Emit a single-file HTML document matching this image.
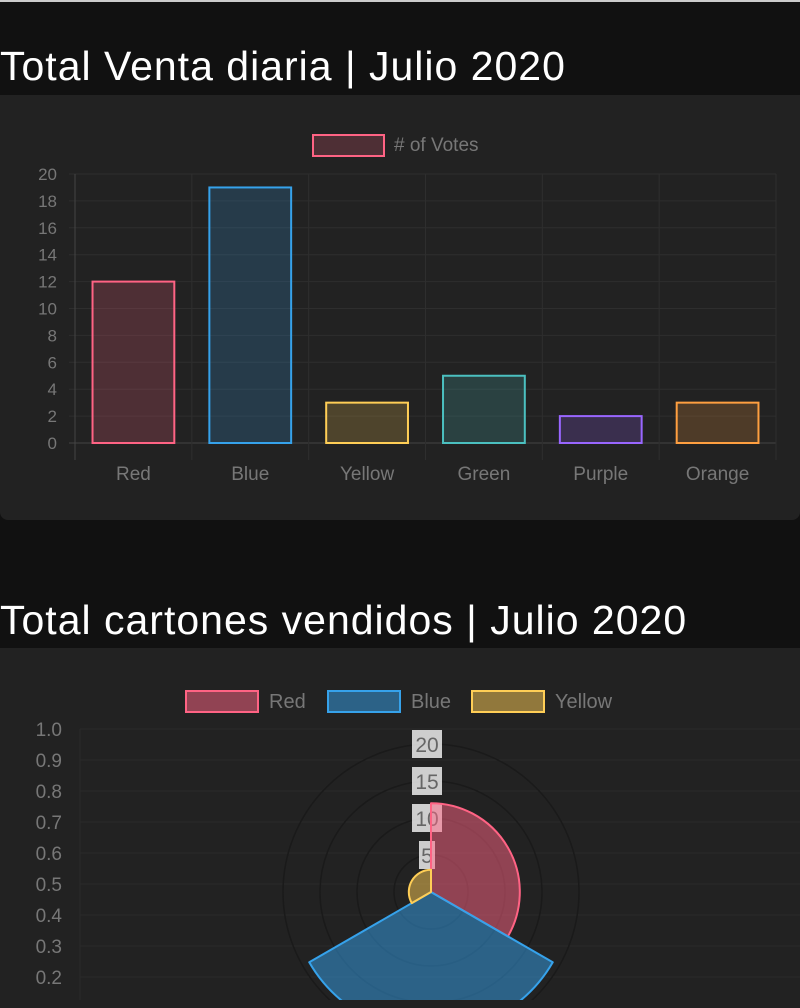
<!DOCTYPE html>
<html><head><meta charset="utf-8"><style>
html,body{margin:0;padding:0;width:800px;height:1000px;overflow:hidden;background:#111;font-family:"Liberation Sans",sans-serif}
#topline{position:absolute;left:0;top:0;width:800px;height:2px;background:#ccc}
.title{position:absolute;left:0;color:#fff;font-size:41px;letter-spacing:1px;white-space:nowrap}
.card{position:absolute;left:0;width:800px;background:#222;border-radius:0 0 8px 8px}
svg{position:absolute;left:0;top:0}
</style></head><body>
<div id="topline"></div>
<div class="title" style="top:43px">Total Venta diaria | Julio 2020</div>
<div class="card" style="top:95px;height:425px"></div>
<div class="title" style="top:597px">Total cartones vendidos | Julio 2020</div>
<div class="card" style="top:648px;height:360px;border-radius:0"></div>
<svg id="bar" width="800" height="1000"></svg>
<script>
const categories=["Red","Blue","Yellow","Green","Purple","Orange"];
const votes=[12,19,3,5,2,3];
const yTicks=[0,2,4,6,8,10,12,14,16,18,20];
const polarLabels=["Red","Blue","Yellow"];
const polarValues=[12,19,3];
const polarTicks=[5,10,15,20];
const leftTicks=["1.0","0.9","0.8","0.7","0.6","0.5","0.4","0.3","0.2","0.1"];

const stroke=["rgb(255,99,132)","rgb(54,162,235)","rgb(255,206,86)","rgb(75,192,192)","rgb(153,102,255)","rgb(255,159,64)"];
const NS="http://www.w3.org/2000/svg";
const svg=document.getElementById('bar');
function mk(t,a,txt){const e=document.createElementNS(NS,t);for(const k in a)e.setAttribute(k,a[k]);if(txt!=null)e.textContent=txt;svg.appendChild(e);return e;}
const x0=75,x1=776,yBase=443,yTop=174,yMax=20;
const Y=v=>yBase-(v/yMax)*(yBase-yTop);
const bw=(x1-x0)/categories.length;
const X=i=>x0+bw*i;
yTicks.forEach(t=>{
  const l=mk('line',{x1:x0-6,x2:x1,y1:Y(t),y2:Y(t),stroke:t===0?'#444':'#2e2e2e','stroke-width':1});
  
  
  const tx=mk('text',{x:57,y:Y(t)+6,'text-anchor':'end',fill:'#777','font-size':17},t);
  
  
});
for(let i=0;i<=categories.length;i++){
  const l=mk('line',{x1:X(i),x2:X(i),y1:yTop,y2:yBase+17,stroke:i===0?'#444':'#2e2e2e','stroke-width':1});
  
  
}
categories.forEach((c,i)=>{
  const bx=X(i)+bw*0.15, w=bw*0.7;
  const r=mk('rect',{x:bx,y:Y(votes[i]),width:w,height:yBase-Y(votes[i]),fill:stroke[i],'fill-opacity':0.2,stroke:stroke[i],'stroke-width':2});
  
  
  const tx=mk('text',{x:X(i)+bw/2,y:480,'text-anchor':'middle',fill:'#777','font-size':19},c);
  
  
});
const lg=mk('rect',{x:313,y:135,width:71,height:21,fill:stroke[0],'fill-opacity':0.2,stroke:stroke[0],'stroke-width':2});


const lt=mk('text',{x:394,y:151,fill:'#777','font-size':19},'# of Votes');



leftTicks.forEach((t,i)=>{
  const y=729+i*31;
  const l=mk('line',{x1:80,x2:800,y1:y,y2:y,stroke:'#2a2a2a','stroke-width':1});
  
  
  const tx=mk('text',{x:62,y:y+7,'text-anchor':'end',fill:'#777','font-size':19},t);
  
  
});
const vl=mk('line',{x1:80,x2:80,y1:729,y2:1000,stroke:'#2a2a2a'});



const cx=431,cy=892,pxPerUnit=7.4;
const R=v=>v*pxPerUnit;
polarTicks.forEach(t=>{
  const c=mk('circle',{cx:cx,cy:cy,r:R(t),fill:'none',stroke:'#1a1a1a','stroke-width':1.5});
  
  
});
polarTicks.forEach(t=>{
  const y=cy-R(t);
  const w=t<10?16:30;
  const b=mk('rect',{x:cx-w/2-4,y:y-14,width:w,height:28,fill:'rgba(255,255,255,0.78)'});
  
  
  const tx=mk('text',{x:cx-4,y:y+8,'text-anchor':'middle',fill:'#666','font-size':21},t);
  
  
});
const seg=360/polarValues.length;
polarValues.forEach((v,i)=>{
  const a0=(-90+seg*i)*Math.PI/180,a1=(-90+seg*(i+1))*Math.PI/180,r=R(v);
  const d=`M${cx},${cy} L${cx+r*Math.cos(a0)},${cy+r*Math.sin(a0)} A${r},${r} 0 0 1 ${cx+r*Math.cos(a1)},${cy+r*Math.sin(a1)} Z`;
  const p=mk('path',{d:d,fill:stroke[i],'fill-opacity':0.5,stroke:stroke[i],'stroke-width':2,'stroke-linejoin':'round'});
  
  
});
const lx=[186,328,472];
polarLabels.forEach((n,i)=>{
  const r=mk('rect',{x:lx[i],y:691,width:72,height:21,fill:stroke[i],'fill-opacity':0.5,stroke:stroke[i],'stroke-width':2});
  
  
  const tx=mk('text',{x:lx[i]+83,y:708,fill:'#777','font-size':20},n);
  
  
});
</script>
</body></html>
